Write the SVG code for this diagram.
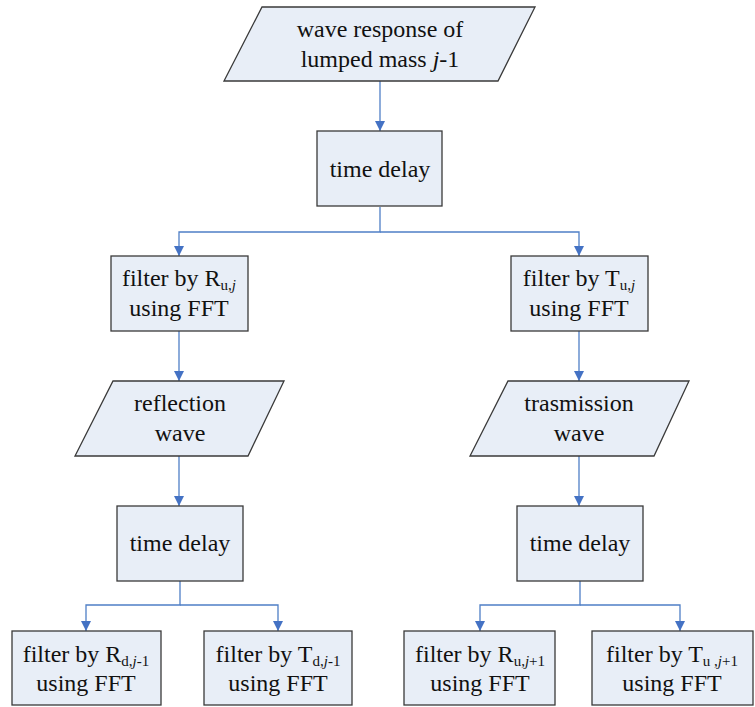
<svg xmlns="http://www.w3.org/2000/svg" width="755" height="707" viewBox="0 0 755 707">
<defs>
<marker id="ah" viewBox="0 0 10 10" refX="10" refY="5" markerWidth="10" markerHeight="10" markerUnits="userSpaceOnUse" orient="auto">
<path d="M0,0 L10,5 L0,10 z" fill="#4472C4"/>
</marker>
<style>
.n{fill:#E8EEF7;stroke:#3a3a3a;stroke-width:1.3}
.t{font-family:'Liberation Serif','Times New Roman',serif;font-size:24px;fill:#111;text-anchor:middle}
.c{fill:none;stroke:#4F7FC6;stroke-width:1.3;marker-end:url(#ah)}
.s{font-size:15px}
</style>
</defs>
<rect width="755" height="707" fill="#fff"/>
<g id="connectors">
<path class="c" d="M380,81 V131"/>
<path class="c" d="M380,207 V232 H179 V256"/>
<path class="c" d="M380,232 H579 V256"/>
<path class="c" d="M179,331 V381"/>
<path class="c" d="M579,331 V381"/>
<path class="c" d="M179,456 V506"/>
<path class="c" d="M579,456 V506"/>
<path class="c" d="M180,581 V605 H86 V631"/>
<path class="c" d="M180,605 H278 V631"/>
<path class="c" d="M580,581 V605 H480 V631"/>
<path class="c" d="M580,605 H680 V631"/>
</g>
<g id="wave-response">
<polygon class="n" points="262,7 535,7 498,81 224,81"/>
<text class="t" x="380" y="37">wave response of</text>
<text class="t" x="380" y="67">lumped mass <tspan font-style="italic">j</tspan>-1</text>
</g>
<g id="time-delay-1">
<rect class="n" x="317" y="131" width="125" height="75"/>
<text class="t" x="380" y="177">time delay</text>
</g>
<g id="filter-Ruj">
<rect class="n" x="111" y="256" width="137" height="75"/>
<text class="t" x="179" y="286">filter by R<tspan class="s" dy="4">u,<tspan font-style="italic">j</tspan></tspan></text>
<text class="t" x="179" y="316">using FFT</text>
</g>
<g id="filter-Tuj">
<rect class="n" x="511" y="256" width="137" height="75"/>
<text class="t" x="579" y="286">filter by T<tspan class="s" dy="4">u,<tspan font-style="italic">j</tspan></tspan></text>
<text class="t" x="579" y="316">using FFT</text>
</g>
<g id="reflection-wave">
<polygon class="n" points="113,381 284,381 248,456 75,456"/>
<text class="t" x="180" y="411">reflection</text>
<text class="t" x="180" y="441">wave</text>
</g>
<g id="trasmission-wave">
<polygon class="n" points="508,381 689,381 654,456 470,456"/>
<text class="t" x="579" y="411">trasmission</text>
<text class="t" x="579" y="441">wave</text>
</g>
<g id="time-delay-2">
<rect class="n" x="117" y="506" width="126" height="75"/>
<text class="t" x="180" y="551">time delay</text>
</g>
<g id="time-delay-3">
<rect class="n" x="517" y="506" width="126" height="75"/>
<text class="t" x="580" y="551">time delay</text>
</g>
<g id="filter-Rdj-1">
<rect class="n" x="12" y="631" width="149" height="74"/>
<text class="t" x="86" y="662">filter by R<tspan class="s" dy="4">d,<tspan font-style="italic">j</tspan>-1</tspan></text>
<text class="t" x="86" y="691">using FFT</text>
</g>
<g id="filter-Tdj-1">
<rect class="n" x="204" y="631" width="148" height="74"/>
<text class="t" x="278" y="662">filter by T<tspan class="s" dy="4">d,<tspan font-style="italic">j</tspan>-1</tspan></text>
<text class="t" x="278" y="691">using FFT</text>
</g>
<g id="filter-Ruj1">
<rect class="n" x="404" y="631" width="151" height="74"/>
<text class="t" x="480" y="662">filter by R<tspan class="s" dy="4">u,<tspan font-style="italic">j</tspan>+1</tspan></text>
<text class="t" x="480" y="691">using FFT</text>
</g>
<g id="filter-Tuj1">
<rect class="n" x="592" y="631" width="161" height="74"/>
<text class="t" x="672" y="662">filter by T<tspan class="s" dy="4">u ,<tspan font-style="italic">j</tspan>+1</tspan></text>
<text class="t" x="672" y="691">using FFT</text>
</g>
</svg>
